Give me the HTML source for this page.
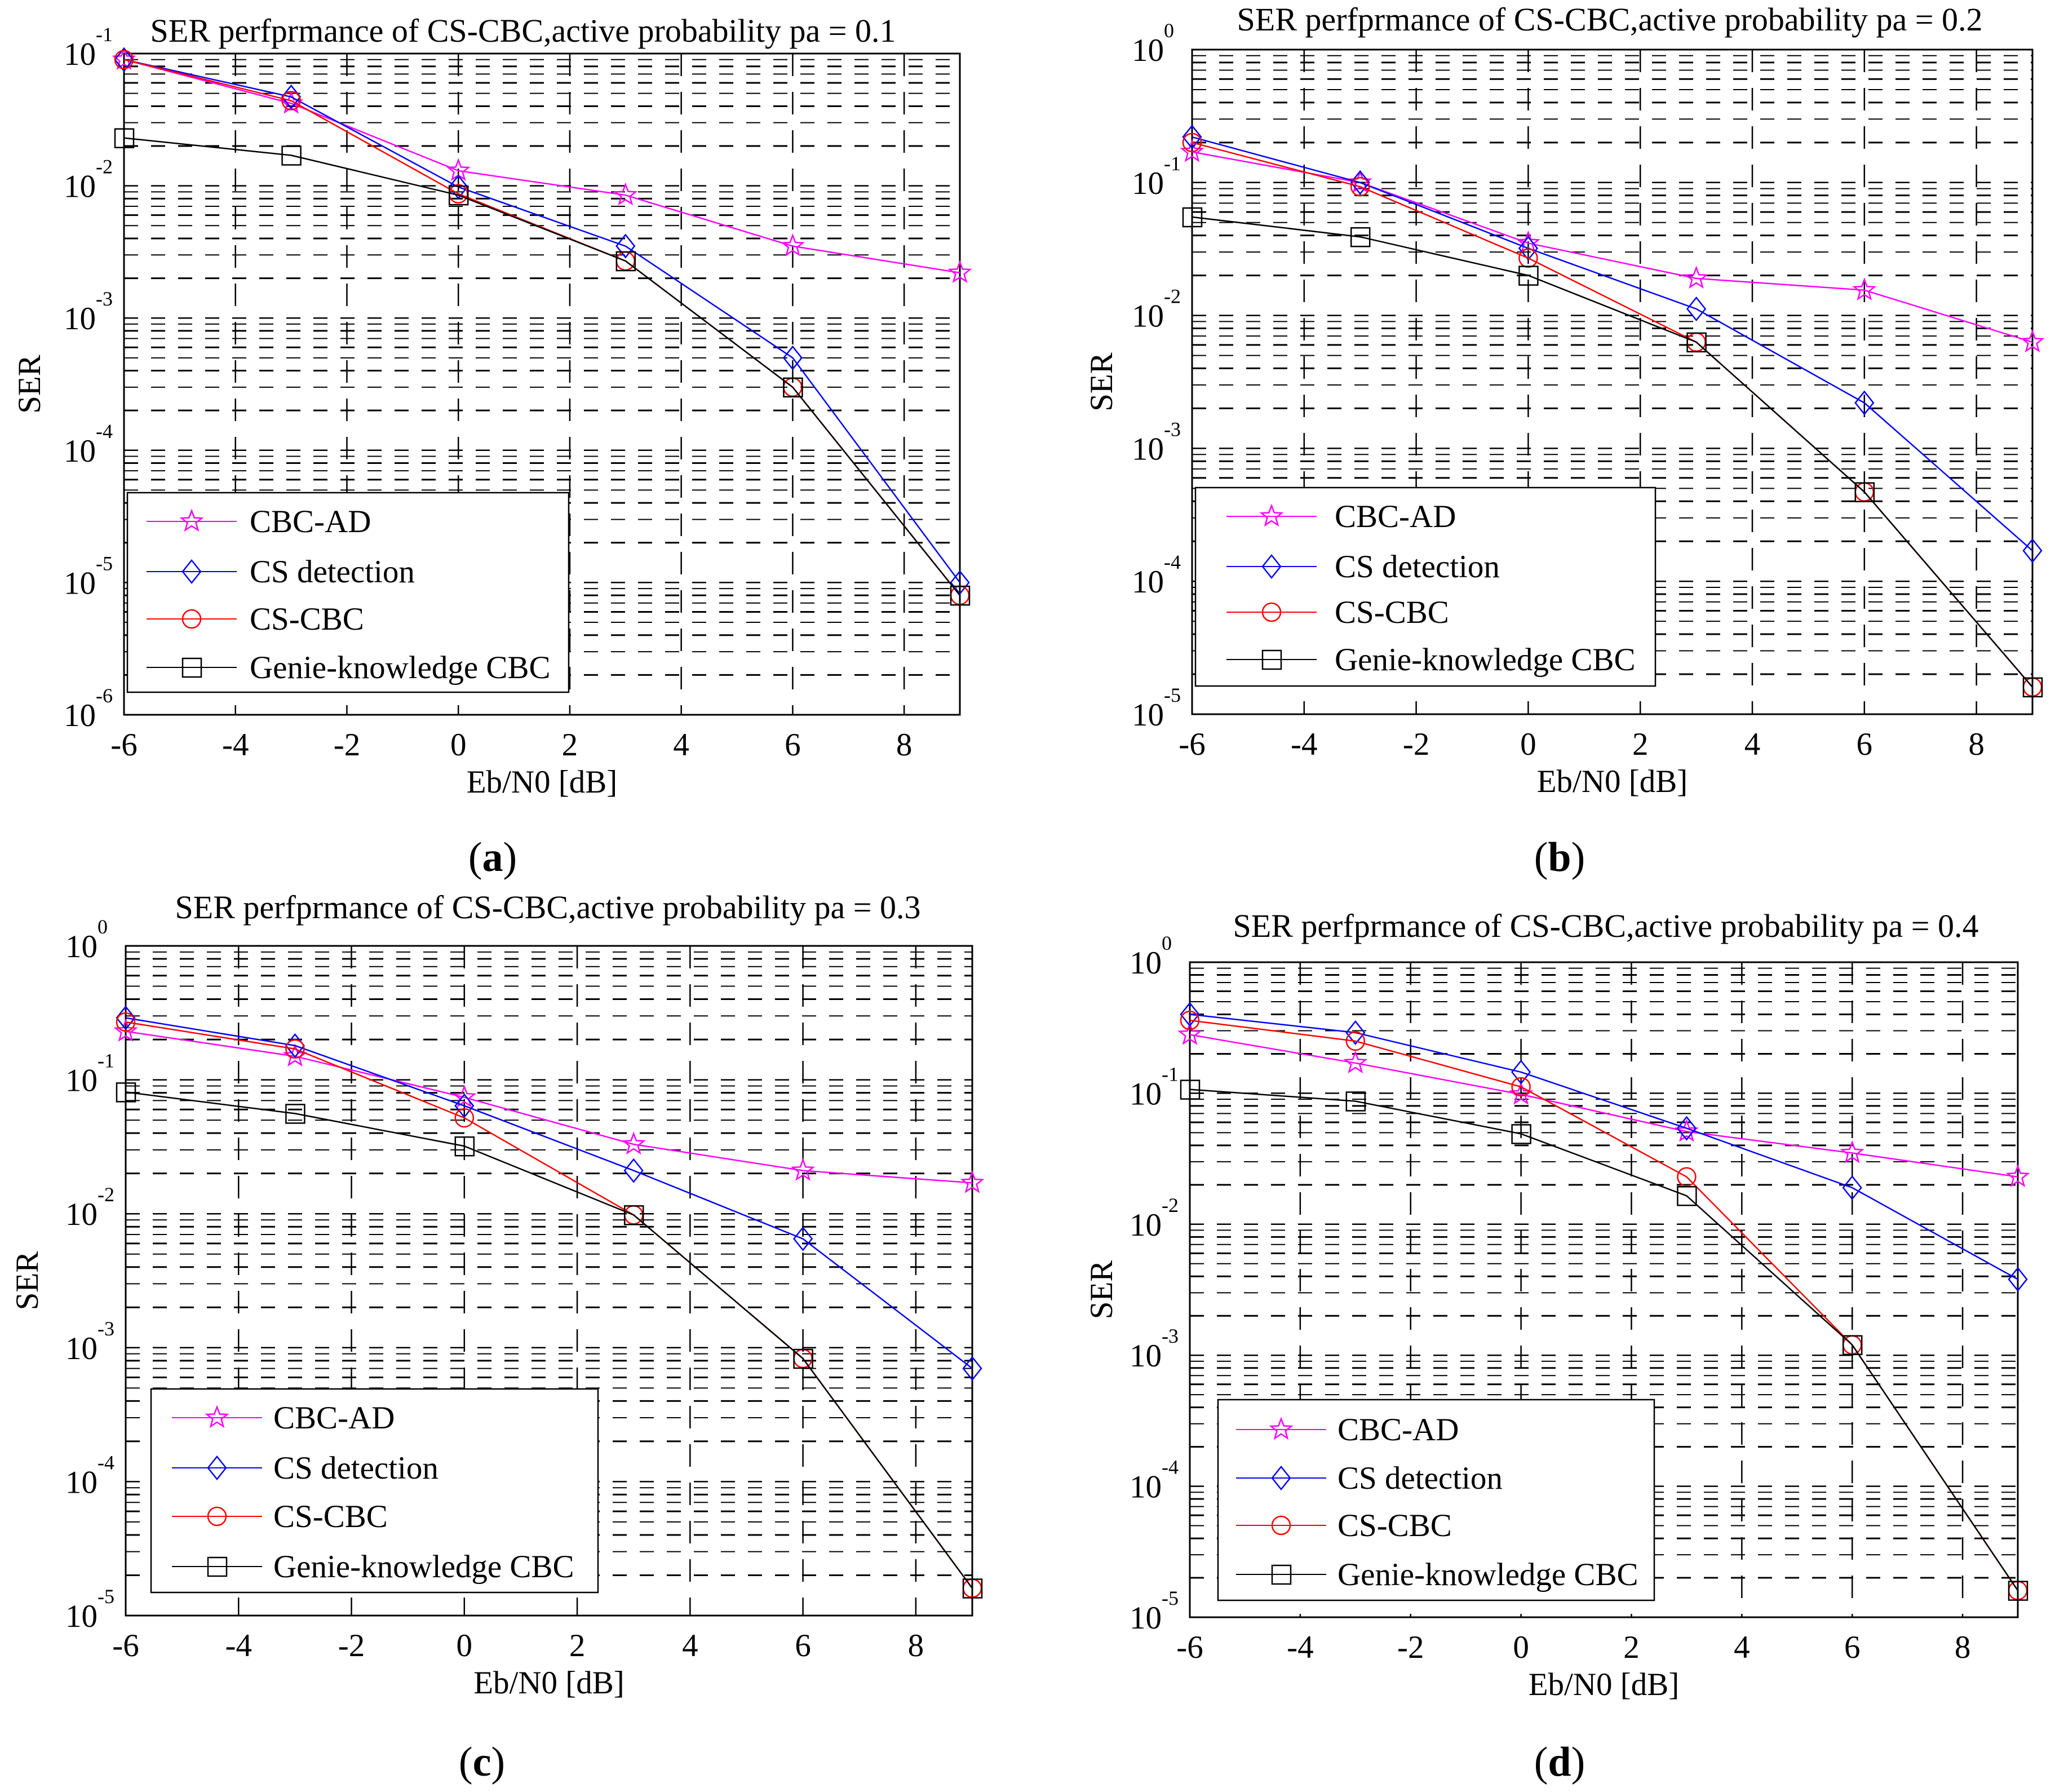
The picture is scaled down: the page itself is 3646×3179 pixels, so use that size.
<!DOCTYPE html>
<html><head><meta charset="utf-8">
<style>
html,body{margin:0;padding:0;background:#fff;}
svg{display:block;font-family:"Liberation Serif",serif;}
</style></head>
<body>
<svg id="fig" width="3646" height="3179" viewBox="0 0 3646 3179" xmlns="http://www.w3.org/2000/svg"></svg>
<script>
const xValues = [-6, -3, 0, 3, 6, 9];
const xTicks = [-6, -4, -2, 0, 2, 4, 6, 8];
const seriesNames = ["CBC-AD", "CS detection", "CS-CBC", "Genie-knowledge CBC"];
// panel a (pa=0.1)
const aCBCAD = [0.09, 0.042, 0.013, 0.0085, 0.0035, 0.0022];
const aCSdet = [0.09, 0.047, 0.0098, 0.0035, 0.0005, 1.0e-5];
const aCSCBC = [0.09, 0.044, 0.0087, 0.0027, 0.0003, 8e-6];
const aGenie = [0.023, 0.017, 0.0085, 0.0027, 0.0003, 8e-6];
// panel b (pa=0.2)
const bCBCAD = [0.17, 0.10, 0.035, 0.019, 0.0155, 0.0063];
const bCSdet = [0.22, 0.10, 0.032, 0.0112, 0.0022, 1.7e-4];
const bCSCBC = [0.2, 0.093, 0.027, 0.0063, 4.7e-4, 1.6e-5];
const bGenie = [0.055, 0.039, 0.02, 0.0063, 4.7e-4, 1.6e-5];
// panel c (pa=0.3)
const cCBCAD = [0.23, 0.15, 0.074, 0.033, 0.021, 0.017];
const cCSdet = [0.29, 0.18, 0.064, 0.021, 0.0065, 7e-4];
const cCSCBC = [0.27, 0.17, 0.052, 0.0098, 8.3e-4, 1.6e-5];
const cGenie = [0.081, 0.056, 0.032, 0.0098, 8.3e-4, 1.6e-5];
// panel d (pa=0.4)
const dCBCAD = [0.28, 0.17, 0.098, 0.051, 0.035, 0.023];
const dCSdet = [0.40, 0.29, 0.145, 0.054, 0.019, 0.0038];
const dCSCBC = [0.36, 0.25, 0.112, 0.023, 0.0012, 1.6e-5];
const dGenie = [0.107, 0.087, 0.049, 0.0165, 0.0012, 1.6e-5];

const panels = [
 {id:"a", pa:"0.1", L:220, R:1703, T:95, B:1268, top:-1, bot:-6, data:[aCBCAD,aCSdet,aCSCBC,aGenie],
  titleX:928, titleY:74, leg:[226,874,783,354], legY:[925,1014,1098,1184], legMarkX:340, legTextX:443, yl:51, pl:[874,1545]},
 {id:"b", pa:"0.2", L:2115, R:3606, T:88, B:1267, top:0, bot:-5, data:[bCBCAD,bCSdet,bCSCBC,bGenie],
  titleX:2856, titleY:54, leg:[2121,865,816,352], legY:[916,1005,1086,1170], legMarkX:2256, legTextX:2368, yl:1953, pl:[2767,1545]},
 {id:"c", pa:"0.3", L:223, R:1725, T:1678, B:2866, top:0, bot:-5, data:[cCBCAD,cCSdet,cCSCBC,cGenie],
  titleX:972, titleY:1629, leg:[268,2464,793,361], legY:[2515,2604,2690,2779], legMarkX:385, legTextX:485, yl:47, pl:[855,3150]},
 {id:"d", pa:"0.4", L:2111, R:3580, T:1707, B:2869, top:0, bot:-5, data:[dCBCAD,dCSdet,dCSCBC,dGenie],
  titleX:2849, titleY:1662, leg:[2161,2483,774,356], legY:[2536,2622,2706,2793], legMarkX:2273, legTextX:2373, yl:1953, pl:[2767,3150]}
];
const colors = ["#ff00ff", "#0000ff", "#ff0000", "#000000"];
const NS = "http://www.w3.org/2000/svg";
const svg = document.getElementById("fig");
function mk(tag, attrs, parent){const e=document.createElementNS(NS,tag);for(const k in attrs)e.setAttribute(k,attrs[k]);(parent||svg).appendChild(e);return e;}

function marker(g, kind, x, y, col){
  let e;
  if(kind===0){
    let pts=[];for(let i=0;i<10;i++){const r=i%2?8:19;const a=-Math.PI/2+i*Math.PI/5;pts.push((x+r*Math.cos(a)).toFixed(1)+","+(y+r*Math.sin(a)).toFixed(1));}
    e=mk("polygon",{points:pts.join(" "),fill:"none",stroke:col,"stroke-width":2.5},g);
  } else if(kind===1){
    e=mk("polygon",{points:`${x},${y-20} ${x+16},${y} ${x},${y+20} ${x-16},${y}`,fill:"none",stroke:col,"stroke-width":2.5},g);
  } else if(kind===2){
    e=mk("circle",{cx:x,cy:y,r:16,fill:"none",stroke:col,"stroke-width":2.5},g);
  } else {
    e=mk("rect",{x:x-16,y:y-16,width:33,height:33,fill:"none",stroke:col,"stroke-width":2.5},g);
  }
  return e;
}

panels.forEach(p=>{
  const g=mk("g",{});
  
  
  const xs=v=>p.L+(v+6)/15*(p.R-p.L);
  const ys=v=>p.T+(p.top-Math.log10(v))/(p.top-p.bot)*(p.B-p.T);
  const grid=mk("g",{},g);
  
  
  for(let e=p.bot;e<p.top;e++){
    for(let m=1;m<=9;m++){
      const v=m*Math.pow(10,e);
      const y=ys(v);
      if(m===1 && e===p.bot) continue;
      const ln=mk("line",{x1:p.L,x2:p.R,y1:y,y2:y,stroke:"#000","stroke-width":m===1?2.5:(m%2===0?3:2),"stroke-dasharray":"25,23"},grid);
      
      
    }
  }
  xTicks.forEach(t=>{
    if(t===-6) return;
    const x=xs(t);
    const ln=mk("line",{x1:x,x2:x,y1:p.T,y2:p.B,stroke:"#000","stroke-width":2.5,"stroke-dasharray":"40,28"},grid);
    
    
  });
  const box=mk("rect",{x:p.L,y:p.T,width:p.R-p.L,height:p.B-p.T,fill:"none",stroke:"#000","stroke-width":3},g);
  
  
  xTicks.forEach(t=>{
    const tx=mk("text",{x:xs(t),y:p.B+72,"font-size":57,"text-anchor":"middle"},g);
    tx.textContent=String(t);
    
    
  });
  for(let e=p.bot;e<=p.top;e++){
    const y=ys(Math.pow(10,e));
    const tx=mk("text",{x:p.L-50,y:y+20,"font-size":57,"text-anchor":"end"},g);
    tx.textContent="10";
    
    
    const ex=mk("text",{x:p.L-50,y:y-22,"font-size":36,"text-anchor":"start"},g);
    ex.textContent=String(e);
    
    
  }
  const ti=mk("text",{x:p.titleX,y:p.titleY,"font-size":58,"text-anchor":"middle"},g);
  ti.textContent="SER perfprmance of CS-CBC,active probability pa = "+p.pa;
  
  
  const xl=mk("text",{x:(p.L+p.R)/2,y:p.B+138,"font-size":57,"text-anchor":"middle"},g);
  xl.textContent="Eb/N0 [dB]";
  
  
  const ym=(p.T+p.B)/2;
  const yl=mk("text",{x:p.yl+20,y:ym,"font-size":57,"text-anchor":"middle",transform:`rotate(-90 ${p.yl+20} ${ym})`},g);
  yl.textContent="SER";
  
  
  p.data.forEach((arr,si)=>{
    const sg=mk("g",{},g);
    
    
    const pts=arr.map((v,i)=>xs(xValues[i]).toFixed(1)+","+ys(v).toFixed(1)).join(" ");
    const pl=mk("polyline",{points:pts,fill:"none",stroke:colors[si],"stroke-width":2.5},sg);
    
    
    arr.forEach((v,i)=>{
      const m=marker(sg,si,xs(xValues[i]),ys(v),colors[si]);
      
      
    });
  });
  const lg=mk("g",{},g);
  
  
  const lb=mk("rect",{x:p.leg[0],y:p.leg[1],width:p.leg[2],height:p.leg[3],fill:"#fff",stroke:"#000","stroke-width":2.5},lg);
  
  
  seriesNames.forEach((n,si)=>{
    const y=p.legY[si];
    const eg=mk("g",{},lg);
    
    
    mk("line",{x1:p.legMarkX-80,x2:p.legMarkX+80,y1:y,y2:y,stroke:colors[si],"stroke-width":2},eg);
    marker(eg,si,p.legMarkX,y,colors[si]);
    const t=mk("text",{x:p.legTextX,y:y+19,"font-size":57},eg);
    t.textContent=n;
  });
  const pl=mk("text",{x:p.pl[0],y:p.pl[1],"font-size":74,"text-anchor":"middle"},g);
  pl.innerHTML='(<tspan font-weight="bold">'+p.id+'</tspan>)';
  
  
});
</script>
</body></html>
